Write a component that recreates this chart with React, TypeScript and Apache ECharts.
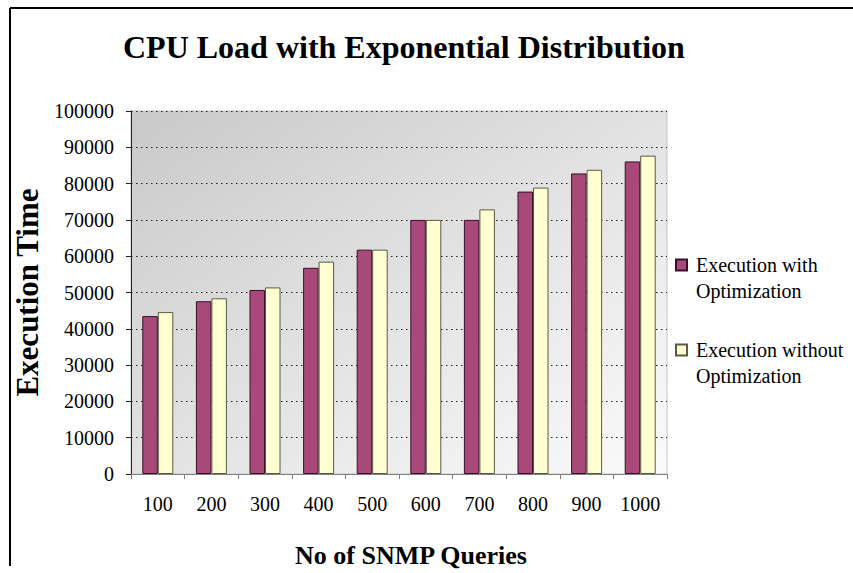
import React, { useEffect, useRef } from "react";
import * as echarts from "echarts";

const categories = ["100", "200", "300", "400", "500", "600", "700", "800", "900", "1000"];
const withOptimization = [43500, 47600, 50700, 56800, 61800, 70000, 70000, 77800, 82800, 86100];
const withoutOptimization = [44600, 48400, 51400, 58500, 61800, 70000, 72900, 78900, 83800, 87700];
const seriesNames = ["Execution with\nOptimization", "Execution without\nOptimization"];

const FONT = "'Liberation Serif', 'Times New Roman', serif";

export default function App() {
  const ref = useRef<HTMLDivElement>(null);
  useEffect(() => {
    if (!ref.current) return;
    const chart = echarts.init(ref.current, null, { renderer: "svg" });
    chart.setOption({
      animation: false,
      backgroundColor: "#ffffff",
      title: {
        text: "CPU Load with Exponential Distribution",
        left: 123,
        top: 31,
        padding: 0,
        textStyle: { fontFamily: FONT, fontWeight: "bold", fontSize: 32, color: "#000" },
      },
      legend: {
        orient: "vertical",
        left: 675,
        top: 226,
        padding: 0,
        itemWidth: 11,
        itemHeight: 11,
        itemGap: 7,
        icon: "rect",
        data: seriesNames,
        formatter: (n: string) => " \n" + n,
        textStyle: {
          fontFamily: FONT,
          fontSize: 20,
          color: "#000",
          lineHeight: 26,
          padding: [0, 0, 0, 4],
        },
      },
      grid: {
        left: 131,
        top: 111,
        width: 536,
        height: 366,
        show: true,
        borderWidth: 1,
        borderColor: "#c4c4c4",
        backgroundColor: new echarts.graphic.LinearGradient(0, 0, 1, 1, [
          { offset: 0, color: "#c9c9c9" },
          { offset: 0.5, color: "#e2e2e2" },
          { offset: 1, color: "#fbfbfb" },
        ]),
      },
      xAxis: {
        type: "category",
        data: categories,
        name: "No of SNMP Queries",
        nameLocation: "middle",
        nameGap: 68,
        nameTextStyle: {
          fontFamily: FONT,
          fontWeight: "bold",
          fontSize: 26,
          color: "#000",
          padding: [0, 0, 0, 24],
        },
        axisLine: { lineStyle: { color: "#808080", width: 1 } },
        axisTick: { show: true, length: 5, lineStyle: { color: "#808080" } },
        axisLabel: { fontFamily: FONT, fontSize: 20, color: "#000", margin: 20 },
      },
      yAxis: {
        type: "value",
        min: 0,
        max: 100000,
        interval: 10000,
        name: "Execution Time",
        nameLocation: "middle",
        nameGap: 86,
        nameTextStyle: { fontFamily: FONT, fontWeight: "bold", fontSize: 31, color: "#000" },
        axisLine: { show: true, lineStyle: { color: "#222", width: 1 } },
        axisTick: { show: true, length: 5, lineStyle: { color: "#222" } },
        axisLabel: {
          fontFamily: FONT,
          fontSize: 20,
          color: "#000",
          margin: 17,
          formatter: (v: number) => String(v),
        },
        splitLine: { show: true, lineStyle: { color: "#222", type: [1.5, 3.5], width: 1 } },
      },
      series: [
        {
          name: seriesNames[0],
          type: "bar",
          data: withOptimization,
          barWidth: 15.5,
          barGap: "0%",
          itemStyle: { color: "#a8497a", borderColor: "#3a1028", borderWidth: 1 },
        },
        {
          name: seriesNames[1],
          type: "bar",
          data: withoutOptimization,
          barWidth: 15.5,
          barGap: "0%",
          itemStyle: { color: "#ffffd2", borderColor: "#5a5a48", borderWidth: 1 },
        },
      ],
      graphic: [
        { type: "line", shape: { x1: 10, y1: 8, x2: 853, y2: 8 }, style: { stroke: "#000", lineWidth: 2 } },
        { type: "line", shape: { x1: 10, y1: 8, x2: 10, y2: 566 }, style: { stroke: "#000", lineWidth: 2 } },
      ],
    });
    return () => chart.dispose();
  }, []);
  return <div ref={ref} style={{ position: "fixed", left: 0, top: 0, width: 853, height: 573 }} />;
}
